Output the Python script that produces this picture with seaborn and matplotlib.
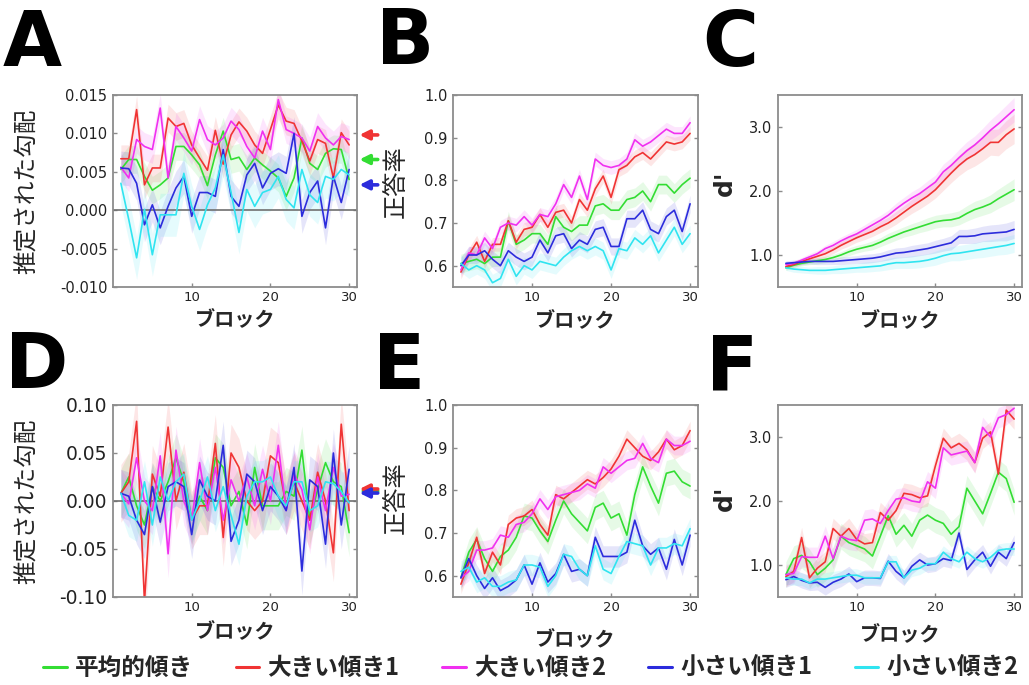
import numpy as np
import pandas as pd
import matplotlib
matplotlib.use("Agg")
import matplotlib.pyplot as plt
from matplotlib.lines import Line2D
import seaborn as sns

# ---------------------------------------------------------------- data
BLOCKS = list(range(1, 31))
SERIES = ["平均的傾き", "大きい傾き1", "大きい傾き2", "小さい傾き1", "小さい傾き2"]
COLORS = ["#33dd33", "#f03434", "#f030f0", "#2c2cdc", "#30e4f0"]

# A: estimated slope (condition 1)
A_green = [0.0053, 0.0066, 0.0066, 0.0044, 0.0026, 0.0033, 0.0042, 0.0083, 0.0083, 0.0072,
           0.0059, 0.0032, 0.0072, 0.0103, 0.0066, 0.0069, 0.0053, 0.0068, 0.0059, 0.0051,
           0.0042, 0.0018, 0.0042, 0.0094, 0.0061, 0.0053, 0.0074, 0.0080, 0.0079, 0.0040]
A_red = [0.0067, 0.0067, 0.0131, 0.0033, 0.0055, 0.0055, 0.0120, 0.0109, 0.0113, 0.0085,
         0.0068, 0.0052, 0.0104, 0.0060, 0.0098, 0.0115, 0.0103, 0.0085, 0.0074, 0.0105,
         0.0137, 0.0116, 0.0113, 0.0090, 0.0064, 0.0092, 0.0087, 0.0042, 0.0101, 0.0085]
A_magenta = [0.0056, 0.0042, 0.0092, 0.0083, 0.0079, 0.0133, 0.0042, 0.0109, 0.0094, 0.0077,
             0.0118, 0.0092, 0.0085, 0.0094, 0.0116, 0.0105, 0.0083, 0.0068, 0.0103, 0.0079,
             0.0144, 0.0105, 0.0100, 0.0094, 0.0077, 0.0109, 0.0094, 0.0085, 0.0096, 0.0092]
A_blue = [0.0055, 0.0054, 0.0035, -0.0019, 0.0007, -0.0023, 0.0005, 0.0029, 0.0044, -0.0008,
          0.0023, 0.0023, 0.0018, 0.0079, 0.0018, 0.0005, 0.0046, 0.0061, 0.0029, 0.0048,
          0.0054, 0.0048, 0.0100, -0.0008, 0.0023, 0.0038, -0.0023, 0.0044, 0.0010, 0.0053]
A_cyan = [0.0035, -0.0012, -0.0062, 0.0001, -0.0058, -0.0006, -0.0006, -0.0006, 0.0048, 0.0005,
          -0.0025, 0.0007, 0.0029, 0.0072, 0.0023, -0.0029, 0.0027, 0.0005, 0.0023, 0.0027,
          0.0044, 0.0014, 0.0003, 0.0053, 0.0020, 0.0010, 0.0044, 0.0040, 0.0053, 0.0046]
A_sem = [0.0018, 0.0018, 0.0018, 0.0022, 0.0028]
A_true = [0.0066, 0.0098, 0.0033]          # green, red, blue arrows

# B: accuracy (condition 1)
B_green = [0.605, 0.61, 0.615, 0.605, 0.62, 0.62, 0.705, 0.65, 0.66, 0.675,
           0.675, 0.65, 0.715, 0.69, 0.68, 0.695, 0.695, 0.74, 0.745, 0.73,
           0.73, 0.755, 0.76, 0.775, 0.75, 0.79, 0.79, 0.77, 0.79, 0.805]
B_red = [0.585, 0.625, 0.655, 0.61, 0.65, 0.65, 0.705, 0.655, 0.685, 0.69,
         0.72, 0.69, 0.725, 0.73, 0.70, 0.755, 0.73, 0.78, 0.81, 0.76,
         0.825, 0.835, 0.855, 0.865, 0.85, 0.87, 0.89, 0.885, 0.89, 0.91]
B_magenta = [0.59, 0.63, 0.625, 0.665, 0.64, 0.69, 0.70, 0.695, 0.715, 0.695,
             0.72, 0.715, 0.745, 0.79, 0.76, 0.81, 0.755, 0.85, 0.835, 0.83,
             0.835, 0.85, 0.895, 0.88, 0.89, 0.905, 0.92, 0.91, 0.91, 0.935]
B_blue = [0.60, 0.625, 0.625, 0.635, 0.615, 0.60, 0.635, 0.62, 0.61, 0.62,
          0.66, 0.63, 0.67, 0.675, 0.64, 0.66, 0.65, 0.685, 0.69, 0.645,
          0.645, 0.71, 0.71, 0.73, 0.685, 0.675, 0.715, 0.73, 0.68, 0.745]
B_cyan = [0.605, 0.59, 0.60, 0.59, 0.56, 0.57, 0.615, 0.575, 0.60, 0.59,
          0.61, 0.605, 0.60, 0.62, 0.635, 0.645, 0.635, 0.645, 0.635, 0.59,
          0.64, 0.635, 0.665, 0.65, 0.67, 0.63, 0.66, 0.69, 0.65, 0.675]
B_sem = [0.022, 0.016, 0.016, 0.02, 0.02]

# C: d' (condition 1)
C_green = [0.80, 0.84, 0.87, 0.89, 0.91, 0.93, 0.96, 1.00, 1.05, 1.09,
           1.12, 1.15, 1.20, 1.26, 1.31, 1.36, 1.40, 1.44, 1.48, 1.52,
           1.54, 1.55, 1.58, 1.65, 1.71, 1.75, 1.80, 1.88, 1.95, 2.02]
C_red = [0.82, 0.85, 0.90, 0.94, 0.98, 1.02, 1.08, 1.15, 1.21, 1.27,
         1.32, 1.37, 1.44, 1.50, 1.58, 1.67, 1.76, 1.84, 1.92, 2.02,
         2.15, 2.28, 2.40, 2.50, 2.57, 2.66, 2.76, 2.76, 2.88, 2.97]
C_magenta = [0.85, 0.87, 0.92, 0.97, 1.02, 1.10, 1.15, 1.22, 1.28, 1.33,
             1.40, 1.47, 1.54, 1.62, 1.72, 1.81, 1.89, 1.96, 2.05, 2.14,
             2.30, 2.40, 2.52, 2.63, 2.72, 2.83, 2.95, 3.05, 3.16, 3.27]
C_blue = [0.87, 0.88, 0.89, 0.90, 0.90, 0.90, 0.90, 0.91, 0.92, 0.93,
          0.94, 0.95, 0.97, 1.00, 1.03, 1.04, 1.06, 1.08, 1.10, 1.13,
          1.16, 1.19, 1.29, 1.29, 1.30, 1.33, 1.34, 1.35, 1.36, 1.40]
C_cyan = [0.80, 0.78, 0.77, 0.76, 0.76, 0.76, 0.77, 0.78, 0.79, 0.80,
          0.81, 0.82, 0.83, 0.86, 0.88, 0.88, 0.89, 0.90, 0.92, 0.95,
          0.99, 1.02, 1.03, 1.05, 1.07, 1.09, 1.11, 1.13, 1.15, 1.18]
C_sem_green = [0.04, 0.04, 0.04, 0.04, 0.05, 0.05, 0.05, 0.05, 0.06, 0.06,
               0.06, 0.07, 0.07, 0.08, 0.08, 0.08, 0.09, 0.09, 0.10, 0.10,
               0.10, 0.11, 0.11, 0.12, 0.13, 0.13, 0.14, 0.15, 0.16, 0.17]
C_sem_red = [0.04, 0.04, 0.05, 0.05, 0.05, 0.06, 0.06, 0.06, 0.07, 0.07,
             0.08, 0.08, 0.09, 0.09, 0.10, 0.10, 0.11, 0.12, 0.12, 0.13,
             0.14, 0.15, 0.16, 0.17, 0.18, 0.19, 0.20, 0.21, 0.22, 0.23]
C_sem_magenta = [0.04, 0.04, 0.04, 0.05, 0.05, 0.05, 0.06, 0.06, 0.06, 0.07,
                 0.07, 0.08, 0.08, 0.08, 0.09, 0.09, 0.10, 0.10, 0.11, 0.11,
                 0.12, 0.12, 0.13, 0.14, 0.14, 0.15, 0.16, 0.17, 0.18, 0.19]
C_sem_blue = [0.04, 0.04, 0.04, 0.04, 0.05, 0.05, 0.05, 0.06, 0.06, 0.06,
              0.07, 0.07, 0.07, 0.08, 0.08, 0.08, 0.09, 0.09, 0.09, 0.10,
              0.10, 0.11, 0.11, 0.11, 0.12, 0.12, 0.13, 0.13, 0.14, 0.14]
C_sem_cyan = [0.04, 0.05, 0.05, 0.05, 0.06, 0.06, 0.06, 0.07, 0.07, 0.07,
              0.08, 0.08, 0.08, 0.09, 0.09, 0.09, 0.10, 0.10, 0.10, 0.11,
              0.11, 0.11, 0.12, 0.12, 0.12, 0.13, 0.13, 0.13, 0.14, 0.14]

# D: estimated slope (condition 2)
D_green = [0.008, 0.025, -0.005, -0.025, 0.015, 0.0, 0.02, 0.045, 0.02, -0.02,
           0.005, -0.01, 0.045, 0.035, -0.005, 0.01, -0.025, 0.035, -0.005, -0.005,
           -0.005, 0.01, 0.005, 0.053, -0.02, 0.012, 0.04, 0.02, 0.015, -0.033]
D_red = [0.008, 0.02, 0.083, -0.105, 0.028, 0.005, 0.077, 0.0, 0.03, -0.02,
         -0.005, -0.005, 0.06, -0.038, 0.05, 0.035, 0.0, -0.01, 0.0, 0.047,
         0.04, -0.005, 0.02, 0.0, -0.02, 0.03, 0.0, -0.054, 0.08, -0.01]
D_magenta = [0.008, -0.003, 0.045, 0.0, -0.01, 0.047, -0.055, 0.053, 0.0, -0.02,
             0.04, -0.01, 0.035, -0.02, 0.022, 0.0, 0.025, -0.005, 0.033, 0.0,
             0.058, -0.01, 0.028, 0.012, -0.03, 0.025, -0.01, 0.035, 0.005, 0.007]
D_blue = [0.008, 0.005, -0.02, -0.035, 0.015, -0.022, 0.015, 0.02, 0.015, -0.035,
          0.022, 0.005, 0.0, 0.058, -0.042, -0.02, 0.028, 0.02, -0.01, 0.015,
          0.005, -0.01, 0.035, -0.073, 0.022, 0.015, -0.045, 0.05, -0.025, 0.033]
D_cyan = [0.008, -0.015, -0.02, 0.02, -0.025, 0.025, 0.0, 0.02, 0.028, -0.02,
          0.0, 0.025, -0.01, 0.015, -0.015, -0.045, 0.005, 0.02, 0.02, 0.025,
          0.005, -0.005, 0.02, 0.02, -0.01, -0.005, 0.02, 0.018, 0.01, -0.002]
D_sem = [0.025, 0.03, 0.025, 0.025, 0.022]
D_true = [0.0104, 0.0125, 0.0083]          # green, red, blue arrows

# E: accuracy (condition 2)
E_green = [0.595, 0.655, 0.685, 0.64, 0.61, 0.645, 0.66, 0.69, 0.74, 0.735,
           0.705, 0.68, 0.73, 0.775, 0.745, 0.725, 0.705, 0.76, 0.77, 0.735,
           0.745, 0.695, 0.79, 0.855, 0.81, 0.77, 0.84, 0.845, 0.82, 0.81]
E_red = [0.58, 0.63, 0.69, 0.605, 0.655, 0.625, 0.72, 0.735, 0.74, 0.755,
         0.72, 0.695, 0.79, 0.78, 0.795, 0.81, 0.825, 0.815, 0.83, 0.85,
         0.88, 0.92, 0.90, 0.88, 0.87, 0.89, 0.92, 0.895, 0.905, 0.94]
E_magenta = [0.595, 0.61, 0.66, 0.66, 0.665, 0.695, 0.69, 0.72, 0.725, 0.745,
             0.78, 0.755, 0.785, 0.79, 0.795, 0.80, 0.815, 0.805, 0.855, 0.84,
             0.855, 0.87, 0.875, 0.91, 0.875, 0.865, 0.92, 0.905, 0.905, 0.915]
E_blue = [0.595, 0.64, 0.60, 0.57, 0.595, 0.565, 0.575, 0.59, 0.625, 0.58,
          0.63, 0.585, 0.605, 0.65, 0.61, 0.615, 0.60, 0.69, 0.645, 0.645,
          0.645, 0.655, 0.73, 0.67, 0.65, 0.665, 0.615, 0.685, 0.625, 0.695]
E_cyan = [0.61, 0.62, 0.585, 0.595, 0.575, 0.575, 0.585, 0.59, 0.625, 0.625,
          0.62, 0.575, 0.60, 0.65, 0.645, 0.615, 0.60, 0.67, 0.615, 0.605,
          0.645, 0.68, 0.675, 0.67, 0.625, 0.665, 0.665, 0.675, 0.67, 0.71]
E_sem = [0.03, 0.022, 0.022, 0.025, 0.025]

# F: d' (condition 2)
F_green = [0.85, 1.10, 1.15, 1.05, 0.85, 0.95, 1.08, 1.45, 1.35, 1.30,
           1.25, 1.14, 1.45, 1.77, 1.48, 1.62, 1.45, 1.70, 1.78, 1.70,
           1.65, 1.48, 1.60, 2.20, 2.00, 1.80, 2.12, 2.45, 2.35, 1.98]
F_red = [0.82, 0.90, 1.43, 0.80, 0.95, 1.05, 1.57, 1.45, 1.57, 1.40,
         1.33, 1.35, 1.82, 1.70, 1.85, 2.12, 2.10, 2.05, 2.08, 2.55,
         2.98, 2.83, 2.90, 2.80, 2.60, 2.98, 3.08, 2.42, 3.42, 3.28]
F_magenta = [0.85, 0.87, 1.13, 1.12, 1.12, 1.45, 1.10, 1.45, 1.40, 1.38,
             1.70, 1.72, 1.65, 1.85, 2.03, 2.05, 2.00, 1.98, 2.30, 2.20,
             2.83, 2.72, 2.75, 2.78, 2.60, 3.15, 3.00, 3.30, 3.35, 3.45]
F_blue = [0.77, 0.82, 0.76, 0.72, 0.73, 0.65, 0.73, 0.78, 0.86, 0.74,
          0.80, 0.80, 0.79, 1.06, 0.90, 0.80, 0.98, 1.08, 1.00, 1.02,
          1.10, 1.07, 1.50, 0.93, 1.08, 1.20, 0.98, 1.20, 1.10, 1.35]
F_cyan = [0.80, 0.78, 0.78, 0.72, 0.78, 0.78, 0.80, 0.82, 0.84, 0.84,
          0.80, 0.80, 0.80, 1.05, 1.05, 0.80, 0.92, 0.95, 1.02, 1.02,
          1.20, 1.10, 1.05, 1.20, 1.10, 1.05, 1.12, 1.23, 1.25, 1.25]
F_sem = [0.2, 0.16, 0.16, 0.12, 0.1]

# ---------------------------------------------------------------- style
sns.set_style("white")
plt.rcParams["font.family"] = ["DejaVu Sans", "Noto Sans CJK JP"]
plt.rcParams["axes.unicode_minus"] = False

W, H = 1029, 685
fig = plt.figure(figsize=(W / 100, H / 100), dpi=100)

def px_axes(left, top, right, bottom):
    return fig.add_axes([left / W, 1 - bottom / H, (right - left) / W, (bottom - top) / H])

SPINE = "#8c8c8c"
JP = ["Noto Sans CJK JP"]

def draw_panel(ax, means, sems, ylim, yticks, yfmt, ytick_size):
    rows = []
    for name, m in zip(SERIES, means):
        for b, v in zip(BLOCKS, m):
            rows.append((b, v, name))
    df = pd.DataFrame(rows, columns=["block", "value", "series"])
    for name, m, s, c in zip(SERIES, means, sems, COLORS):
        m = np.asarray(m)
        s = np.asarray(s) * np.ones_like(m)
        ax.fill_between(BLOCKS, m - s, m + s, color=c, alpha=0.12, lw=0)
    sns.lineplot(data=df, x="block", y="value", hue="series", hue_order=SERIES,
                 palette=COLORS, linewidth=1.2, legend=False, errorbar=None, ax=ax)
    ax.set_xlim(0, 31)
    ax.set_ylim(*ylim)
    ax.set_xticks([10, 20, 30])
    ax.set_yticks(yticks)
    ax.set_yticklabels([yfmt % t for t in yticks])
    ax.tick_params(axis="both", direction="in", length=3, width=1, color=SPINE,
                   labelcolor="#222222", right=True, left=True, bottom=True, top=False)
    ax.tick_params(axis="y", labelsize=ytick_size, pad=4)
    ax.tick_params(axis="x", labelsize=9.5, pad=3)
    for sp in ax.spines.values():
        sp.set_color(SPINE)
        sp.set_linewidth(1.3)
    ax.set_xlabel("ブロック", fontsize=14.5, fontweight="bold", family=JP)
    ax.set_ylabel("")

def arrows(ax, values):
    for v, c in zip(values, [COLORS[0], COLORS[1], COLORS[3]]):
        ax.annotate("", xy=(1.01, v), xycoords=("axes fraction", "data"),
                    xytext=(1.085, v), textcoords=("axes fraction", "data"),
                    arrowprops=dict(arrowstyle="-|>", color=c, lw=2.6, mutation_scale=14,
                                    shrinkA=0, shrinkB=0),
                    annotation_clip=False)

cols = [(113, 357), (453, 698), (778, 1022)]
rows_px = [(95, 287), (405, 597)]

axA = px_axes(cols[0][0], rows_px[0][0], cols[0][1], rows_px[0][1])
axB = px_axes(cols[1][0], rows_px[0][0], cols[1][1], rows_px[0][1])
axC = px_axes(cols[2][0], rows_px[0][0], cols[2][1], rows_px[0][1])
axD = px_axes(cols[0][0], rows_px[1][0], cols[0][1], rows_px[1][1])
axE = px_axes(cols[1][0], rows_px[1][0], cols[1][1], rows_px[1][1])
axF = px_axes(cols[2][0], rows_px[1][0], cols[2][1], rows_px[1][1])

draw_panel(axA, [A_green, A_red, A_magenta, A_blue, A_cyan], A_sem, (-0.010, 0.015),
           [-0.010, -0.005, 0.0, 0.005, 0.010, 0.015], "%.3f", 10.5)
draw_panel(axB, [B_green, B_red, B_magenta, B_blue, B_cyan], B_sem, (0.55, 1.0),
           [0.6, 0.7, 0.8, 0.9, 1.0], "%.1f", 10.5)
draw_panel(axC, [C_green, C_red, C_magenta, C_blue, C_cyan],
           [C_sem_green, C_sem_red, C_sem_magenta, C_sem_blue, C_sem_cyan], (0.5, 3.5),
           [1.0, 2.0, 3.0], "%.1f", 10.5)
draw_panel(axD, [D_green, D_red, D_magenta, D_blue, D_cyan], D_sem, (-0.10, 0.10),
           [-0.10, -0.05, 0.0, 0.05, 0.10], "%.2f", 13.5)
draw_panel(axE, [E_green, E_red, E_magenta, E_blue, E_cyan], E_sem, (0.55, 1.0),
           [0.6, 0.7, 0.8, 0.9, 1.0], "%.1f", 10.5)
draw_panel(axF, [F_green, F_red, F_magenta, F_blue, F_cyan], F_sem, (0.5, 3.5),
           [1.0, 2.0, 3.0], "%.1f", 10.5)

for ax in (axA, axD):
    ax.axhline(0, color="#707070", lw=1.2, zorder=1)

arrows(axA, A_true)
arrows(axD, D_true)

# axis titles (label anchor sits on the right edge of the rotated text)
for ax in (axA, axD):
    ax.set_ylabel("推定された勾配", fontsize=17, family=JP)
    ax.yaxis.set_label_coords(-0.305, 0.5)
for ax, yc in ((axB, 0.55), (axE, 0.52)):
    ax.set_ylabel("正答率", fontsize=17.5, family=JP)
    ax.yaxis.set_label_coords(-0.18, yc)
for ax, yc in ((axC, 0.54), (axF, 0.515)):
    ax.set_ylabel("d'", fontsize=18, fontweight="bold")
    ax.yaxis.set_label_coords(-0.17, yc)
for ax, yc in ((axA, -0.115), (axB, -0.12), (axC, -0.12),
               (axD, -0.125), (axE, -0.165), (axF, -0.14)):
    ax.xaxis.set_label_coords(0.5, yc)

# panel letters
for letter, x, y in (("A", 3, 8), ("B", 376, 6), ("C", 702, 8),
                     ("D", 5, 330), ("E", 373, 331), ("F", 706, 333)):
    fig.text(x / W, 1 - y / H, letter, fontsize=55, fontweight="bold",
             ha="left", va="top", color="black")

# legend
handles = [Line2D([0], [0], color=c, lw=2.2) for c in COLORS]
fig.legend(handles, SERIES, loc="center", bbox_to_anchor=(0.516, 1 - 668 / H), ncol=5,
           frameon=False, handlelength=1.0, handletextpad=0.35, columnspacing=1.8,
           prop={"family": JP, "weight": "bold", "size": 17})

fig.savefig("out.png", dpi=100, facecolor="white")
